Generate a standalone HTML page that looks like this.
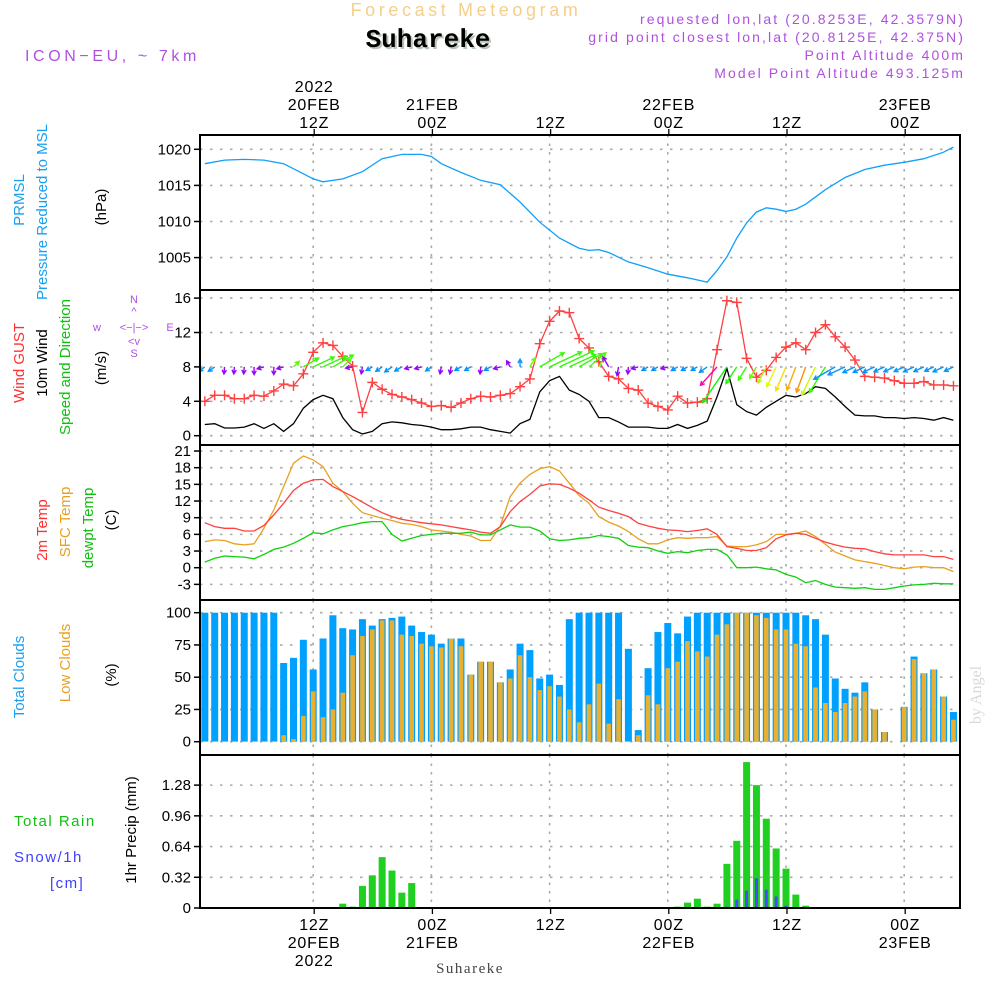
<!DOCTYPE html>
<html><head><meta charset="utf-8"><style>
html,body{margin:0;padding:0;background:#fff;}
svg{display:block;font-family:"Liberation Sans",sans-serif;}
</style></head><body>
<svg id="chart" width="1000" height="1000" viewBox="0 0 1000 1000" xmlns="http://www.w3.org/2000/svg">
<g id="hdr">
<text x="466" y="16" text-anchor="middle" font-size="18" fill="#f5cf8a" letter-spacing="3.6">Forecast Meteogram</text>
<text x="430" y="49" text-anchor="middle" font-size="26" font-weight="bold" font-family="Liberation Mono,monospace" fill="#b8c8b8">Suhareke</text>
<text x="428" y="47" text-anchor="middle" font-size="26" font-weight="bold" font-family="Liberation Mono,monospace" fill="#000">Suhareke</text>
<text x="25" y="61" font-size="16" fill="#b050e0" letter-spacing="3.6">ICON−EU, ~ 7km</text>
<text x="965" y="24" text-anchor="end" font-size="14" fill="#b050e0" letter-spacing="2.1">requested lon,lat (20.8253E, 42.3579N)</text>
<text x="965" y="42" text-anchor="end" font-size="14" fill="#b050e0" letter-spacing="2.1">grid point closest lon,lat (20.8125E, 42.375N)</text>
<text x="965" y="60" text-anchor="end" font-size="14" fill="#b050e0" letter-spacing="2.1">Point Altitude 400m</text>
<text x="965" y="78" text-anchor="end" font-size="14" fill="#b050e0" letter-spacing="2.1">Model Point Altitude 493.125m</text>
</g>
<g id="labels" font-size="15">
<text transform="translate(24,200) rotate(-90)" text-anchor="middle" fill="#18a0f0">PRMSL</text>
<text transform="translate(47,212) rotate(-90)" text-anchor="middle" fill="#18a0f0">Pressure Reduced to MSL</text>
<text transform="translate(106,207) rotate(-90)" text-anchor="middle" fill="#000">(hPa)</text>
<text transform="translate(24,363) rotate(-90)" text-anchor="middle" fill="#ff3030">Wind GUST</text>
<text transform="translate(47,363) rotate(-90)" text-anchor="middle" fill="#000">10m Wind</text>
<text transform="translate(70,367) rotate(-90)" text-anchor="middle" fill="#10c010">Speed and Direction</text>
<text transform="translate(106,368) rotate(-90)" text-anchor="middle" fill="#000">(m/s)</text>
<text transform="translate(47,530) rotate(-90)" text-anchor="middle" fill="#ff3030">2m Temp</text>
<text transform="translate(70,522) rotate(-90)" text-anchor="middle" fill="#e8a020">SFC Temp</text>
<text transform="translate(93,528) rotate(-90)" text-anchor="middle" fill="#10c010">dewpt Temp</text>
<text transform="translate(116,520) rotate(-90)" text-anchor="middle" fill="#000">(C)</text>
<text transform="translate(24,677) rotate(-90)" text-anchor="middle" fill="#18a0f0">Total Clouds</text>
<text transform="translate(70,663) rotate(-90)" text-anchor="middle" fill="#e8a020">Low Clouds</text>
<text transform="translate(116,675) rotate(-90)" text-anchor="middle" fill="#000">(%)</text>
<text x="14" y="826" fill="#10c010" letter-spacing="1.5">Total  Rain</text>
<text x="14" y="862" fill="#4040ff" letter-spacing="1.5">Snow/1h</text>
<text x="50" y="888" fill="#4040ff" letter-spacing="1.5">[cm]</text>
<text transform="translate(136,830) rotate(-90)" text-anchor="middle" fill="#000">1hr Precip (mm)</text>
<text transform="translate(981,695) rotate(-90)" text-anchor="middle" fill="#d8d8d8" font-family="Liberation Serif,serif" font-size="16">by Angel</text>
<g font-size="11" fill="#b050e0">
<text x="134" y="303" text-anchor="middle">N</text>
<text x="134" y="315" text-anchor="middle">^</text>
<text x="97" y="331" text-anchor="middle">w</text>
<text x="134" y="331" text-anchor="middle">&lt;−|−&gt;</text>
<text x="170" y="331" text-anchor="middle">E</text>
<text x="134" y="345" text-anchor="middle">&lt;v</text>
<text x="134" y="357" text-anchor="middle">S</text>
</g>
<text x="470" y="973" text-anchor="middle" font-family="Liberation Serif,serif" font-size="15" fill="#444" letter-spacing="1.5">Suhareke</text>
</g>
<g id="plot"></g>
</svg>
<script>
const hours = [];
for (let i = 1; i <= 77; i++) hours.push(i);

const presHours = [1,3,5,7,9,11,12,13,15,17,19,21,23,24,25,27,29,31,33,35,37,39,40,41,42,44,46,48,50,52,53,54,55,56,57,58,59,60,61,62,64,66,68,70,72,74,76,77];
const presVals = [1018.0,1018.5,1018.6,1018.5,1018.0,1016.6,1015.9,1015.5,1015.9,1016.9,1018.7,1019.3,1019.3,1019.0,1018.0,1016.8,1015.7,1015.1,1012.7,1009.9,1007.7,1006.3,1006.0,1006.1,1005.7,1004.4,1003.6,1002.7,1002.2,1001.6,1003.2,1005.1,1007.7,1009.8,1011.3,1011.9,1011.7,1011.4,1011.7,1012.4,1014.4,1016.1,1017.2,1017.8,1018.2,1018.7,1019.6,1020.3];

const gustVals = [4.0,4.7,4.7,4.3,4.3,4.7,4.6,5.2,6.0,5.8,7.2,9.7,10.8,10.5,9.2,8.1,2.7,6.2,5.4,4.8,4.5,4.2,3.8,3.4,3.5,3.3,3.8,4.3,4.6,4.5,4.7,4.9,5.7,6.6,10.7,13.3,14.5,14.3,11.3,10.2,8.6,6.9,6.6,5.5,5.3,3.8,3.4,3.0,4.6,3.8,3.9,4.3,10.0,15.7,15.5,9.0,6.8,7.6,9.1,10.3,10.8,10.0,12.0,12.9,11.5,10.3,8.8,6.9,6.8,6.7,6.4,6.1,6.1,6.3,5.9,5.9,5.8];
const windVals = [1.3,1.4,0.9,0.9,1.0,1.4,0.85,1.4,0.5,1.4,3.2,4.2,4.7,4.3,2.1,0.7,0.2,0.5,1.4,1.6,1.5,1.3,1.2,1.0,0.7,0.7,0.8,1.0,1.0,0.7,0.5,0.3,1.4,1.9,5.1,6.4,6.9,5.3,4.8,4.0,2.1,2.1,1.6,1.0,1.0,1.0,0.85,0.85,1.3,0.85,1.2,1.7,4.5,7.8,3.6,2.8,2.4,3.3,4.0,4.7,4.5,4.9,5.7,5.5,4.5,3.4,2.4,2.3,2.3,2.1,2.1,2.0,2.1,2.0,1.8,2.1,1.8];
const windDir = [235,235,185,185,185,180,255,180,255,45,60,65,65,60,45,260,190,240,235,235,240,255,255,235,190,190,240,240,185,240,255,330,0,30,60,65,65,65,60,50,30,330,190,185,255,240,240,255,240,240,240,235,222,214,213,212,210,207,205,203,201,200,206,212,240,245,245,245,245,245,245,245,245,245,245,245,245];

const t2m = [8.1,7.4,7.1,7.1,6.6,6.6,7.6,9.5,11.6,13.9,15.2,15.8,15.9,14.6,13.7,12.8,11.8,10.8,9.9,9.2,8.7,8.4,8.1,7.9,7.7,7.4,7.1,6.8,6.4,6.2,7.4,10.1,11.9,13.2,14.7,15.1,15.0,14.3,13.4,12.2,10.9,10.3,9.8,9.2,8.0,7.5,7.1,6.8,6.7,6.5,6.7,7.0,6.0,3.8,3.5,3.1,3.1,3.6,5.2,5.9,6.2,6.0,5.3,4.6,4.1,3.7,3.5,3.4,2.9,2.5,2.3,2.3,2.3,2.3,2.0,2.0,1.5];
const tSfc = [4.7,5.0,4.9,4.3,4.1,4.3,7.1,10.4,14.6,18.8,20.1,19.4,18.2,15.2,13.7,11.6,9.9,9.4,8.9,8.5,8.0,7.8,7.4,6.8,6.6,6.4,6.0,5.7,4.9,4.9,7.5,12.8,15.2,16.8,17.8,18.2,17.4,15.2,13.0,11.6,9.2,8.2,7.5,6.5,5.2,4.3,4.3,5.0,5.4,5.3,5.4,5.4,5.6,3.9,3.8,3.8,4.1,4.7,6.0,6.0,6.2,6.6,5.6,4.2,2.8,2.1,1.4,1.1,0.8,0.4,0.0,-0.2,0.1,0.2,0.0,0.0,-0.7];
const tDew = [1.0,1.7,2.1,2.0,1.9,1.6,2.4,3.3,3.7,4.4,5.3,6.3,6.1,6.8,7.4,7.7,8.1,8.3,8.3,6.0,4.8,5.3,5.8,6.0,6.2,6.2,6.2,6.4,5.9,5.9,6.8,7.7,7.3,7.3,6.6,5.2,4.9,5.0,5.3,5.4,5.8,5.6,5.3,4.0,3.7,3.6,3.0,2.6,2.9,2.7,3.1,3.3,3.3,2.3,0.0,0.0,0.1,-0.2,-0.4,-1.2,-1.7,-2.7,-2.3,-3.0,-3.5,-3.6,-3.7,-3.6,-3.9,-3.9,-3.6,-3.3,-3.1,-3.0,-2.8,-2.9,-2.9];

const totalClouds = [100,100,100,100,100,100,100,100,61,65,79,56,80,98,88,87,95,90,95,96,97,90,85,83,76,80,80,52,62,62,46,56,76,71,49,52,44,95,100,100,100,100,100,72,9,57,85,92,84,97,100,100,100,100,100,100,100,100,100,100,100,98,95,83,49,41,38,46,25,7.5,0,27,66,53,56,35,23];
const lowClouds = [0.5,0.5,0.5,0.5,0.5,0.5,0.5,0.5,5,2,20,39,19,25,38,67,82,87,94,94,83,82,76,74,73,80,74,52,62,62,46,49,67,50,40,43,35,25,15,29,45,14,33,0.5,5,36,29,57,62,78,70,66,83,91,100,100,98,96,87,87,76,74,42,30,23,30,35,39,25,7.5,0,27,64,53,56,35,17];

const rainHours = [15,16,17,18,19,20,21,22,49,50,51,52,53,54,55,56,57,58,59,60,61,62];
const rainVals = [0.045,0.014,0.23,0.34,0.53,0.39,0.16,0.26,0.014,0.056,0.097,0.014,0.045,0.46,0.70,1.52,1.28,0.93,0.62,0.41,0.14,0.024];
const snowHours = [54,55,56,57,58,59,60,61];
const snowVals = [0.014,0.087,0.18,0.31,0.19,0.12,0.024,0.003];

const presTicks = [1005,1010,1015,1020];
const windTicks = [0,4,8,12,16];
const tempTicks = [-3,0,3,6,9,12,15,18,21];
const cloudTicks = [0,25,50,75,100];
const precipTicks = [0,0.32,0.64,0.96,1.28];
const gridHours = [12,24,36,48,60,72];
const topLabels = [["2022","20FEB","12Z"],["21FEB","00Z"],["12Z"],["22FEB","00Z"],["12Z"],["23FEB","00Z"]];
const botLabels = [["12Z","20FEB","2022"],["00Z","21FEB"],["12Z"],["00Z","22FEB"],["12Z"],["00Z","23FEB"]];

const NS = "http://www.w3.org/2000/svg";
const plot = document.getElementById("plot");
const L = 200, R = 960;
function X(t){ return 195 + 9.85*t; }
function yPres(v){ return 149.3 + (1020 - v)*7.22; }
function yWind(v){ return 435.7 - v*8.6; }
function yTemp(v){ return 567.7 - v*5.556; }
function yCloud(v){ return 741.7 - v*1.29; }
function yPrecip(v){ return 908 - v*96; }
function mk(tag, attrs, parent){
  const e = document.createElementNS(NS, tag);
  for (const k in attrs) e.setAttribute(k, attrs[k]);
  (parent || plot).appendChild(e);
  return e;
}
const panels = [[135,290,yPres,presTicks,v=>String(v)],[290,445,yWind,windTicks,v=>String(v)],[445,600,yTemp,tempTicks,v=>String(v)],[600,755,yCloud,cloudTicks,v=>String(v)],[755,908,yPrecip,precipTicks,v=>String(v)]];
const pnames = ['pressure','wind','temperature','clouds','precip'];
panels.forEach((p, i) => {
  const g = mk('g', {});
  
  
  const clip = mk('clipPath', {id: 'clip' + i}, g);
  mk('rect', {x: L, y: p[0], width: R - L, height: p[1] - p[0]}, clip);
  p[3].forEach(v => {
    const y = p[2](v);
    const gl = mk('line', {x1: L, x2: R, y1: y, y2: y, stroke: '#aaa', 'stroke-width': 1.6, 'stroke-dasharray': '2.5,7.5'}, g);
    
    
    mk('line', {x1: L - 6, x2: L, y1: y, y2: y, stroke: '#000', 'stroke-width': 1.5}, g);
    const tx = mk('text', {x: L - 9, y: y + 5, 'text-anchor': 'end', 'font-size': 15, fill: '#000'}, g);
    tx.textContent = p[4](v);
    
    
  });
  gridHours.forEach(h => {
    const vl = mk('line', {x1: X(h), x2: X(h), y1: p[0], y2: p[1], stroke: '#aaa', 'stroke-width': 1.6, 'stroke-dasharray': '2.5,6'}, g);
    
    
  });
});
function poly(hs, vals, yf, color, name, w, clipId){
  const pts = hs.map((h, i) => X(h).toFixed(1) + ',' + yf(vals[i]).toFixed(1)).join(' ');
  const e = mk('polyline', {points: pts, fill: 'none', stroke: color, 'stroke-width': w || 1.3, 'clip-path': 'url(#' + clipId + ')'});
  
  
  return e;
}
poly(presHours, presVals, yPres, '#10a0f8', 'pressure-line', 1.3, 'clip0');
poly(hours, windVals, yWind, '#000', 'wind10m-line', 1.3, 'clip1');
poly(hours, gustVals, yWind, '#ff4040', 'gust-line', 1.3, 'clip1');
hours.forEach((h, i) => {
  const x = X(h), y = yWind(gustVals[i]);
  const m = mk('path', {d: `M${x-5},${y}H${x+5}M${x},${y-5}V${y+5}`, stroke: '#ff4040', 'stroke-width': 1.4, fill: 'none'});
  
  
});
function dirHue(d){
  if (d < 30 || d > 340) return 205;
  if (d < 100) return 100 + (d - 45) * 0.5;
  if (d >= 300) return 275;
  if (d < 197) return 275;
  if (d < 217) return 35 + (d - 200) * 6;
  if (d < 227) return 320;
  if (d >= 250) return 275;
  return 205;
}
hours.forEach((h, i) => {
  const d = windDir[i] * Math.PI / 180;
  const len = Math.max(7, windVals[i] * 5.5);
  const x0 = X(h), y0 = yWind(8);
  const x1 = x0 + Math.sin(d) * len, y1 = y0 - Math.cos(d) * len;
  const a = Math.atan2(y1 - y0, x1 - x0);
  const hl = 4.5;
  const col = `hsl(${dirHue(windDir[i])},95%,50%)`;
  const p = `M${x0},${y0}L${x1},${y1}M${x1 - hl*Math.cos(a - 0.5)},${y1 - hl*Math.sin(a - 0.5)}L${x1},${y1}L${x1 - hl*Math.cos(a + 0.5)},${y1 - hl*Math.sin(a + 0.5)}`;
  const e = mk('path', {d: p, stroke: col, 'stroke-width': 1.4, fill: 'none', 'clip-path': 'url(#clip1)'});
  
  
});
poly(hours, tSfc, yTemp, '#e8a020', 'sfc-temp-line', 1.3, 'clip2');
poly(hours, t2m, yTemp, '#ff4040', 't2m-line', 1.3, 'clip2');
poly(hours, tDew, yTemp, '#10d010', 'dewpt-line', 1.3, 'clip2');
hours.forEach((h, i) => {
  if (totalClouds[i] > 0) {
    const y = yCloud(totalClouds[i]);
    const b = mk('rect', {x: X(h) - 3.5, y: y, width: 7, height: yCloud(0) - y, fill: '#00a0ff', 'clip-path': 'url(#clip3)'});
    
    
  }
  if (lowClouds[i] > 0) {
    const y = yCloud(lowClouds[i]);
    const b = mk('rect', {x: X(h) - 2.3, y: y, width: 4.6, height: yCloud(0) - y, fill: '#e8b030', 'clip-path': 'url(#clip3)'});
    
    
  }
});
rainHours.forEach((h, i) => {
  const y = yPrecip(rainVals[i]);
  const b = mk('rect', {x: X(h) - 3.5, y: y, width: 7, height: yPrecip(0) - y, fill: '#20d020'});
  
  
});
snowHours.forEach((h, i) => {
  const y = yPrecip(snowVals[i]);
  const b = mk('rect', {x: X(h) - 1.5, y: y, width: 3, height: yPrecip(0) - y, fill: '#4848ff'});
  
  
});
mk('line', {x1: L, x2: R, y1: 908, y2: 908, stroke: '#888', 'stroke-width': 1, 'stroke-dasharray': '3,4'});
panels.forEach(p => {
  const f = mk('rect', {x: L, y: p[0], width: R - L, height: p[1] - p[0], fill: 'none', stroke: '#000', 'stroke-width': 2});
  
  
});
gridHours.forEach((h, i) => {
  const x = X(h) + 1;
  mk('line', {x1: x, x2: x, y1: 129, y2: 135, stroke: '#000', 'stroke-width': 1.3});
  mk('line', {x1: x, x2: x, y1: 908, y2: 914, stroke: '#000', 'stroke-width': 1.3});
  const tl = topLabels[i];
  tl.forEach((s, j) => {
    const t = mk('text', {x: x, y: 128 - (tl.length - 1 - j) * 18, 'text-anchor': 'middle', 'font-size': 16, fill: '#000', 'letter-spacing': 0.8});
    t.textContent = s;
    
    
  });
  botLabels[i].forEach((s, j) => {
    const t = mk('text', {x: x, y: 930 + j * 18, 'text-anchor': 'middle', 'font-size': 16, fill: '#000', 'letter-spacing': 0.8});
    t.textContent = s;
    
    
  });
});
</script>
</body></html>
